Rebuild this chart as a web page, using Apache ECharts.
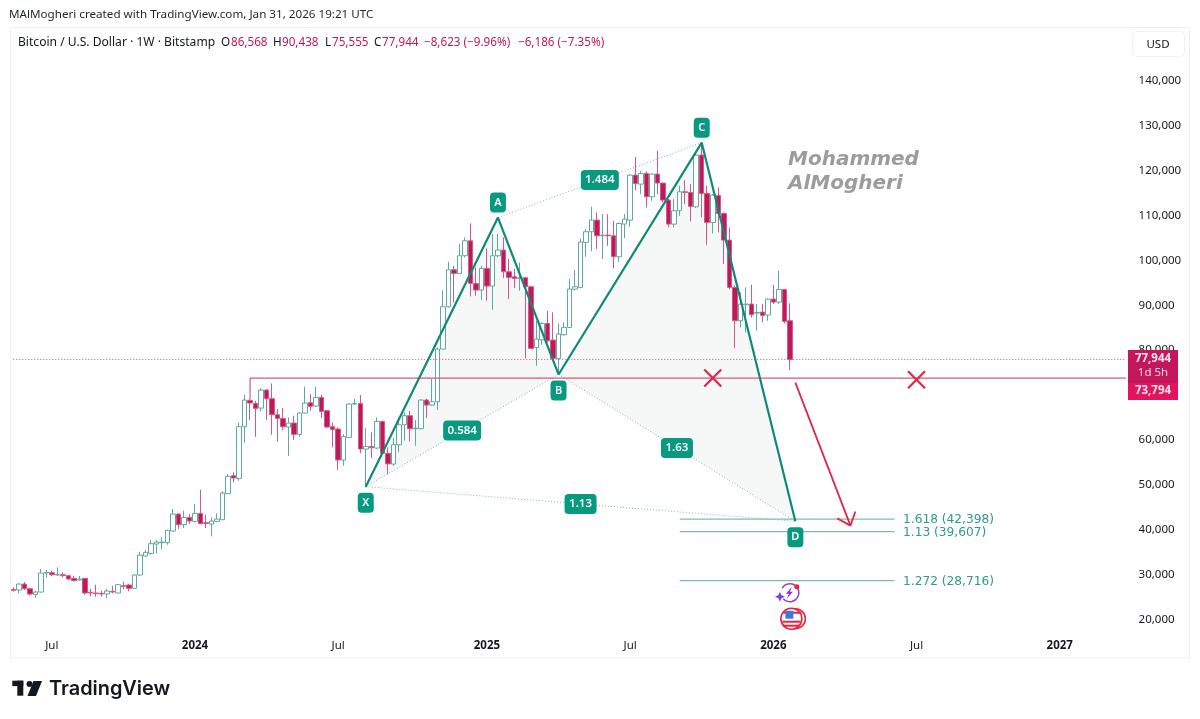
<!DOCTYPE html>
<html><head><meta charset="utf-8">
<style>html,body{margin:0;padding:0;background:#fff}#c{width:1200px;height:719px}</style>
<script src="https://cdn.jsdelivr.net/npm/echarts@6/dist/echarts.min.js"></script>
</head><body><div id="c"></div>
<script>
const opens=[26750,26610,27940,26900,25570,26160,30390,30465,29945,30020,29800,29205,28830,29205,26085,25940,25865,25715,26310,25940,27570,27720,26975,29945,34175,34770,36845,37140,37140,39740,43525,41150,42780,41890,43670,41595,41300,41890,42260,48050,52060,51465,62965,68825,68160,67120,71125,69200,65635,64820,62890,63780,61260,66010,68305,67565,69495,66525,62965,62445,55545,60590,68010,68160,57995,58585,58215,64150,57030,54650,58955,63405,65410,62515,62515,68900,67785,68525,80250,89675,97910,97095,101025,104365,94870,93385,98205,94275,101025,102290,97465,96355,95980,96130,94125,80620,82330,85965,82255,78175,83440,85075,93605,93975,103995,106370,108965,105480,105625,105480,100800,108075,108965,118980,116980,119355,114160,119205,117200,113415,108075,111045,115270,115125,111935,123435,114900,108445,114455,110450,104510,93975,86555,90120,90265,88265,88485,87820,91380,90710,93530,86568];
const closes=[26530,27940,26900,25710,26160,30390,30540,30020,30090,29800,29055,28685,29055,25940,25940,25790,25715,26385,26160,27790,27420,26975,29945,34400,34990,36920,37290,37290,39890,43525,41150,42780,41965,43670,41370,41445,41965,42410,48200,51910,51540,62965,68900,68230,67045,71125,69200,65635,64820,62965,63780,61260,66010,68230,67490,69495,66380,62890,62370,55545,60740,68010,68160,57995,58585,58290,64150,57030,54690,58955,63405,65410,62515,62665,68900,67785,68525,80250,89675,97910,97095,101025,104365,94870,93385,98205,94275,101025,102290,97465,96205,95980,96130,94125,80400,82475,85965,82105,78175,83590,85075,93605,94125,104070,106370,108965,105480,105625,105480,100800,108225,109190,118980,117125,119355,114160,119205,117200,113415,108075,111045,115270,115125,112010,123435,114900,108445,114530,110450,104510,93975,86555,90265,90265,87890,88410,87745,91380,90710,93530,86410,77944];
const lows=[26240,25860,26600,25345,24830,26010,29425,29720,29800,29425,28830,28535,28685,25570,25195,25120,25120,24825,25865,25865,26830,26310,26830,29800,34030,34470,34770,35660,36695,39590,40185,40410,41300,41670,41300,40410,38550,41815,42190,47975,50575,50945,59400,64450,60740,66380,64450,61185,59625,62225,56435,60070,60740,65930,66525,67415,64895,62670,58365,53390,54285,60440,67860,57100,49460,55990,57995,56880,52350,54280,57250,59845,59695,58735,62370,64890,67635,66670,80175,89525,90640,96945,100655,91975,92125,91160,91010,89005,100655,96055,91380,93830,93235,78175,80250,76540,81215,81735,78025,74685,83220,84925,93235,93830,100800,101990,102510,100285,103250,98205,99690,104960,107480,115640,114755,111785,113270,114755,112900,107335,107335,109930,112525,108670,111635,109560,103475,106000,106220,99170,93605,80470,85075,83960,87300,84330,86185,86555,90265,90265,85960,75555];
const highs=[27200,28090,28390,27050,26460,31280,31060,30910,31650,30540,30020,29800,29720,29280,26830,27790,26460,26830,27570,27940,28460,27940,30170,35140,35510,37735,37735,38330,40035,44640,43670,44265,43525,45750,48940,43375,42780,43670,48570,52430,52800,63930,70090,69125,68750,71570,71350,72610,66900,67120,65040,65415,66155,71870,70235,71870,70090,66675,63930,62815,61330,68160,69125,70015,62670,61705,65040,64300,58360,60440,65040,66150,66520,64445,69045,69195,73570,80600,93385,99690,98800,103625,105110,108225,98430,98800,102660,105850,105850,105110,100285,98060,99545,96355,94350,86560,86190,88785,88415,85965,86190,95835,97835,104735,106960,111930,110670,110300,110300,108815,108445,110300,119205,123065,119945,119800,119355,124400,117350,113640,113640,116610,117870,116980,123655,126200,116610,114755,116240,110670,107330,94350,92865,93975,94570,90265,90265,91530,94570,97685,93605,90438];

const firstWeek=Date.UTC(2023,4,15), weekCount=203;
const categories=[];
for(let i=0;i<weekCount;i++){categories.push(new Date(firstWeek+i*7*864e5).toISOString().slice(0,10));}
const tickLabels={'2023-07-03':'Jul','2024-01-01':'2024','2024-07-01':'Jul','2025-01-06':'2025','2025-07-07':'Jul','2026-01-05':'2026','2026-07-06':'Jul','2027-01-04':'2027'};

const patternNames=['X','A','B','C','D'];
const patternWeek=[64,88,99,125,142];
const patternPrice=[49620,109530,74600,126200,41900];
const ratioLabels=[[0,2,'0.584'],[1,3,'1.484'],[2,4,'1.63'],[0,4,'1.13']];

const fibRatios=['1.618','1.13','1.272'];
const fibPrices=[42398,39607,28716];
const fibFrom=121, fibTo=160;

const lastPrice=77944, levelPrice=73794, levelFrom=43, levelFoot=69000;
const crossWeeks=[127,164], crossPrices=[73794,73400];
const arrowFrom=[142,72780], arrowTo=[152,40940];
const iconWeeks=[141,142], iconPrices=[26010,20220];

const TEAL='#0f8a76',TAGG='#089981',RED='#c2185b',UI='"Noto Sans",sans-serif';
const dd=(a,b)=>({type:'line',shape:{x1:a[0],y1:a[1],x2:b[0],y2:b[1]},style:{stroke:'#7fb8ae',lineWidth:1,lineDash:[1,2]}});

function pts(api){return patternWeek.map((w,i)=>api.coord([w,patternPrice[i]]));}

const text=(t,x,y,font,fill,align)=>({type:'text',z:100,x:x,y:y,silent:true,style:{text:t,font:font,fill:fill,align:align||'left',verticalAlign:'middle'}});
const f12='11.7px '+UI;
const rect=(x,y,w,h,fill)=>({type:'rect',z:99,silent:true,shape:{x:x,y:y,width:w,height:h},style:{fill:fill}});

const graphicEls=[
 {type:'rect',z:0,silent:true,shape:{x:10.5,y:27.5,width:1179,height:630.5},style:{fill:'none',stroke:'#eef0f3',lineWidth:1}},
 {type:'rect',z:1,silent:true,shape:{x:1132.5,y:31.5,width:52,height:25,r:4},style:{fill:'#fff',stroke:'#f0f1f4',lineWidth:1}},
 text('USD',1158,44.5,'11.5px '+UI,'#131722','center'),
 text('MAlMogheri created with TradingView.com, Jan 31, 2026 19:21 UTC',9,15,'11.65px '+UI,'#1f2430'),
 text('Bitcoin / U.S. Dollar · 1W · Bitstamp',18,42.5,'12.1px '+UI,'#131722'),
 text('O',221,42.5,f12,'#131722'),text('86,568',231,42.5,f12,RED),
 text('H',273,42.5,f12,'#131722'),text('90,438',282,42.5,f12,RED),
 text('L',325,42.5,f12,'#131722'),text('75,555',332,42.5,f12,RED),
 text('C',374,42.5,f12,'#131722'),text('77,944',382,42.5,f12,RED),
 text('−8,623 (−9.96%)',424,42.5,f12,RED),
 text('−6,186 (−7.35%)',518,42.5,f12,RED),
 text('Mohammed',788,160,'italic bold 20px "DejaVu Sans",sans-serif','#9c9c9c'),
 text('AlMogheri',788,184,'italic bold 20px "DejaVu Sans",sans-serif','#9c9c9c'),
 rect(1128,350,50,33,RED),
 rect(1128,383,50,17,'#e3145f'),
 text('77,944',1153,359,'bold 11.5px '+UI,'#fde6ee','center'),
 text('1d 5h',1153,373,'11.5px '+UI,'#fbd3e1','center'),
 text('73,794',1153,391,'bold 11.5px '+UI,'#fde6ee','center'),
 rect(12.3,680.7,11,5.4,'#131722'),rect(17.3,680.7,6,15,'#131722'),
 {type:'circle',z:99,silent:true,shape:{cx:29.5,cy:684,r:3},style:{fill:'#131722'}},
 {type:'polygon',z:99,silent:true,shape:{points:[[33.5,681],[42,681],[36,696],[27.5,696]]},style:{fill:'#131722'}},
 text('TradingView',49,689.5,'600 19.9px Inter,sans-serif','#131722')
];

const option={
 animation:false,
 backgroundColor:'#fff',
 textStyle:{fontFamily:UI},
 graphic:{elements:graphicEls},
 grid:{left:10.5,top:80.7,width:1118.1,height:539,containLabel:false},
 xAxis:{type:'category',data:categories,boundaryGap:true,axisLine:{show:false},axisTick:{show:false},splitLine:{show:false},
  axisLabel:{margin:20,fontSize:11.5,color:'#131722',hideOverlap:false,
   interval:(i,v)=>!!tickLabels[v],
   formatter:v=>{const t=tickLabels[v]||'';return /^\d/.test(t)?'{b|'+t+'}':t;},
   rich:{b:{fontWeight:'bold',fontSize:11.5,color:'#131722'}}}},
 yAxis:{type:'value',position:'right',min:20000,max:140000,interval:10000,scale:true,
  axisLine:{show:false},axisTick:{show:false},splitLine:{show:false},
  axisLabel:{margin:10,fontSize:11.5,color:'#131722',padding:[2,0,0,0],formatter:v=>v.toLocaleString('en-US')}},
 series:[
  {type:'custom',name:'fill',z:1,silent:true,data:[0],
   renderItem:(p,api)=>{const c=pts(api);return {type:'group',children:[
     {type:'polygon',shape:{points:[c[0],c[1],c[2]]},style:{fill:'#f5f8f6'}},
     {type:'polygon',shape:{points:[c[2],c[3],c[4]]},style:{fill:'#f5f8f6'}}]};}},
  {type:'candlestick',name:'BTCUSD',z:2,barWidth:5,silent:true,
   data:opens.map((o,i)=>[o,closes[i],lows[i],highs[i]]),
   itemStyle:{color:'#ffffff',borderColor:'#5fa99f',color0:'#c2185b',borderColor0:'#d35a87',borderWidth:1}},
  {type:'line',name:'lastPrice',z:3,silent:true,showSymbol:false,symbol:'none',
   data:[[0,lastPrice],[weekCount-1,lastPrice]],
   lineStyle:{color:'#d0467a',type:[1,2],width:1}},
  {type:'line',name:'level',z:3,silent:true,showSymbol:false,symbol:'none',
   data:[[levelFrom,levelFoot],[levelFrom,levelPrice],[weekCount-1,levelPrice]],
   lineStyle:{color:'#d9577f',width:1.2}},
  {type:'custom',name:'dotted',z:3,silent:true,data:[0],
   renderItem:(p,api)=>{const c=pts(api);return {type:'group',children:[dd(c[0],c[2]),dd(c[1],c[3]),dd(c[2],c[4]),dd(c[0],c[4])]};}},
  {type:'line',name:'pattern',z:4,silent:true,showSymbol:false,symbol:'none',
   data:patternWeek.map((w,i)=>[w,patternPrice[i]]),lineStyle:{color:TEAL,width:2.2}},
  {type:'custom',name:'fib',z:3,silent:true,data:[0],
   renderItem:(p,api)=>({type:'group',children:fibPrices.flatMap((v,i)=>{
     const a=api.coord([fibFrom,v]),b=api.coord([fibTo,v]);
     return [{type:'line',shape:{x1:a[0],y1:a[1],x2:b[0],y2:b[1]},style:{stroke:'#7fbdb3',lineWidth:1.3}},
      {type:'text',style:{x:b[0]+8.5,y:b[1]+1,text:fibRatios[i]+' ('+v.toLocaleString('en-US')+')',font:'12.2px "DejaVu Sans",sans-serif',fill:'#2f9a8a',align:'left',verticalAlign:'middle'}}];
    })})},
  {type:'custom',name:'crosses',z:5,silent:true,data:[0],
   renderItem:(p,api)=>({type:'group',children:crossWeeks.flatMap((w,i)=>{
     const c=api.coord([w,crossPrices[i]]),r=8.5,st={stroke:'#e0284a',lineWidth:2.2};
     return [{type:'line',shape:{x1:c[0]-r,y1:c[1]-r,x2:c[0]+r,y2:c[1]+r},style:st},{type:'line',shape:{x1:c[0]-r,y1:c[1]+r,x2:c[0]+r,y2:c[1]-r},style:st}];
    })})},
  {type:'custom',name:'arrow',z:5,silent:true,data:[0],
   renderItem:(p,api)=>{
     const a=api.coord(arrowFrom),b=api.coord(arrowTo),ang=Math.atan2(a[1]-b[1],a[0]-b[0]),L=15,sp=.7,st={stroke:'#e0284a',lineWidth:1.8};
     const h=s=>[b[0]+L*Math.cos(ang+s*sp),b[1]+L*Math.sin(ang+s*sp)];
     const h1=h(1),h2=h(-1);
     return {type:'group',children:[{type:'line',shape:{x1:a[0],y1:a[1],x2:b[0],y2:b[1]},style:st},
       {type:'line',shape:{x1:h1[0],y1:h1[1],x2:b[0],y2:b[1]},style:st},{type:'line',shape:{x1:h2[0],y1:h2[1],x2:b[0],y2:b[1]},style:st}]};}},
  {type:'custom',name:'labels',z:6,silent:true,data:[0],
   renderItem:(p,api)=>{
     const c=pts(api),kids=[];
     patternNames.forEach((n,i)=>{const up=(n==='A'||n==='C');const y=c[i][1]+(up?-15:16);
       kids.push({type:'rect',shape:{x:c[i][0]-8,y:y-10,width:16,height:20,r:4},style:{fill:TAGG}});
       kids.push({type:'text',style:{x:c[i][0],y:y,text:n,font:'600 11px '+UI,fill:'#fff',align:'center',verticalAlign:'middle'}});});
     ratioLabels.forEach(r=>{const m=[(c[r[0]][0]+c[r[1]][0])/2,(c[r[0]][1]+c[r[1]][1])/2],w=r[2].length>4?38:32;
       kids.push({type:'rect',shape:{x:m[0]-w/2,y:m[1]-10,width:w,height:20,r:4},style:{fill:TAGG}});
       kids.push({type:'text',style:{x:m[0],y:m[1],text:r[2],font:'600 11.5px '+UI,fill:'#fff',align:'center',verticalAlign:'middle'}});});
     return {type:'group',children:kids};}},
  {type:'custom',name:'icons',z:6,silent:true,data:[0],
   renderItem:(p,api)=>{
     const a0=api.coord([iconWeeks[0],iconPrices[0]]),b0=api.coord([iconWeeks[1],iconPrices[1]]);
     const a=[a0[0]-1,a0[1]],b=[b0[0]-3,b0[1]];
     return {type:'group',children:[
       {type:'arc',shape:{cx:a[0]+1,cy:a[1],r:9,startAngle:-2.6,endAngle:2.4},style:{fill:'none',stroke:'#9c3fc9',lineWidth:1.6}},
       {type:'polygon',shape:{points:[[a[0]-9,a[1]-1],[a[0]-7.5,a[1]+2.5],[a[0]-4,a[1]+4],[a[0]-7.5,a[1]+5.5],[a[0]-9,a[1]+9],[a[0]-10.5,a[1]+5.5],[a[0]-14,a[1]+4],[a[0]-10.5,a[1]+2.5]]},style:{fill:'#7a3cf0'}},
       {type:'polygon',shape:{points:[[a[0]+3,a[1]-6],[a[0]-3,a[1]+1],[a[0],a[1]+1],[a[0]-2,a[1]+6],[a[0]+4,a[1]-1],[a[0]+1,a[1]-1]]},style:{fill:'#9c2fc9'}},
       {type:'circle',shape:{cx:a[0]+8,cy:a[1]-6,r:2.5},style:{fill:'#e5243f'}},
       {type:'circle',shape:{cx:b[0]+3,cy:b[1],r:10},style:{fill:'none',stroke:'#e5243f',lineWidth:1.5}},
       {type:'circle',shape:{cx:b[0]-1,cy:b[1],r:10.5},style:{fill:'#fff',stroke:'#e5243f',lineWidth:1.6}},
       {type:'rect',shape:{x:b[0]-9,y:b[1]-7,width:18,height:2},style:{fill:'#e5243f'}},
       {type:'rect',shape:{x:b[0]-10,y:b[1]+2,width:18,height:2},style:{fill:'#e5243f'}},
       {type:'rect',shape:{x:b[0]-9,y:b[1]+6,width:16,height:2},style:{fill:'#e5243f'}},
       {type:'rect',shape:{x:b[0]-7,y:b[1]-8,width:8,height:8},style:{fill:'#3f78d8'}}
     ]};}}
 ]
};
const chart=echarts.init(document.getElementById('c'),null,{renderer:'canvas'});
chart.setOption(option);
</script></body></html>
